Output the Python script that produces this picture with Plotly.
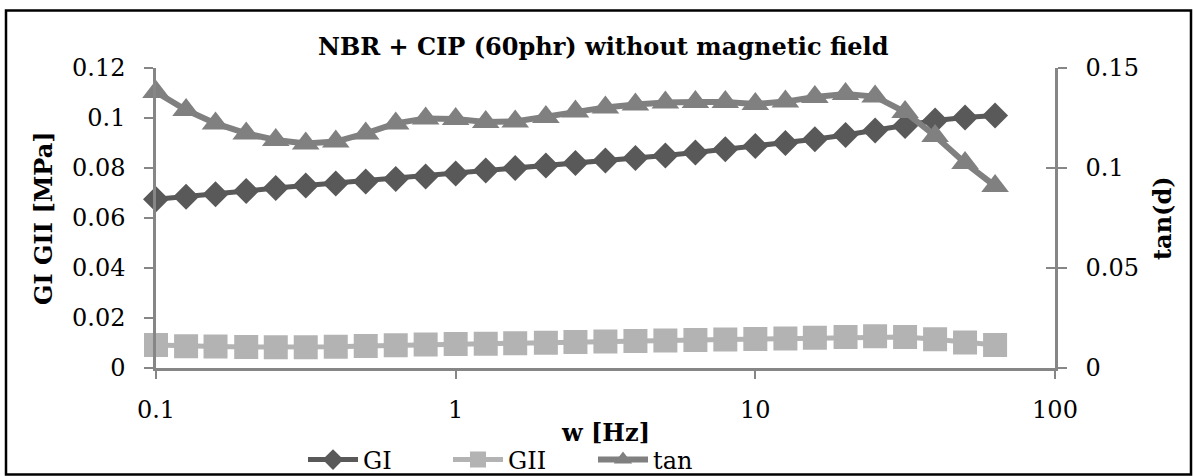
import plotly.graph_objects as go

# Frequency sweep (Hz), ten points per decade
freq = [0.1, 0.126, 0.158, 0.2, 0.251, 0.316, 0.398, 0.501, 0.631, 0.794,
        1.0, 1.26, 1.58, 2.0, 2.51, 3.16, 3.98, 5.01, 6.31, 7.94,
        10.0, 12.6, 15.8, 20.0, 25.1, 31.6, 39.8, 50.1, 63.1]

# Storage modulus GI [MPa]
gi = [0.0675, 0.0685, 0.0695, 0.0708, 0.0720, 0.0730, 0.0738, 0.0746, 0.0756, 0.0766,
      0.0778, 0.0790, 0.0800, 0.0810, 0.0820, 0.0830, 0.0840, 0.0850, 0.0862, 0.0875,
      0.0888, 0.0900, 0.0915, 0.0932, 0.0950, 0.0968, 0.0990, 0.1002, 0.1010]

# Loss modulus GII [MPa]
gii = [0.0092, 0.0087, 0.0086, 0.0084, 0.0083, 0.0083, 0.0085, 0.0088, 0.0091, 0.0094,
       0.0096, 0.0097, 0.0099, 0.0101, 0.0104, 0.0106, 0.0108, 0.0110, 0.0112, 0.0114,
       0.0116, 0.0118, 0.0121, 0.0124, 0.0127, 0.0124, 0.0115, 0.0102, 0.0092]

# Loss factor tan(d)
tan_d = [0.138, 0.129, 0.1223, 0.1173, 0.1140, 0.1123, 0.1132, 0.1173, 0.1223, 0.1248,
         0.1245, 0.1230, 0.1233, 0.1255, 0.1282, 0.1303, 0.1317, 0.1328, 0.1330, 0.1330,
         0.1320, 0.1332, 0.1355, 0.1370, 0.1357, 0.1280, 0.1160, 0.1025, 0.0910]

x_ticks = [0.1, 1, 10, 100]
x_ticktext = ["0.1", "1", "10", "100"]
left_ticks = [0, 0.02, 0.04, 0.06, 0.08, 0.1, 0.12]
left_ticktext = ["0", "0.02", "0.04", "0.06", "0.08", "0.1", "0.12"]
right_ticks = [0, 0.05, 0.1, 0.15]
right_ticktext = ["0", "0.05", "0.1", "0.15"]

FONT = "DejaVu Serif"
FS = 24
W, H = 1193, 476
L, R, T, B = 156, 138, 68, 108
PW, PH = W - L - R, H - T - B


def px(xp):
    return (xp - L) / PW


def py(yp):
    return (H - B - yp) / PH


fig = go.Figure()
fig.add_trace(go.Scatter(
    x=freq, y=gi, name="GI", mode="lines+markers", cliponaxis=False,
    line=dict(color="#595959", width=5),
    marker=dict(symbol="diamond", size=20, color="#595959"),
))
fig.add_trace(go.Scatter(
    x=freq, y=gii, name="GII", mode="lines+markers", cliponaxis=False,
    line=dict(color="#B3B3B3", width=5),
    marker=dict(symbol="square", size=24, color="#B3B3B3"),
))
fig.add_trace(go.Scatter(
    x=freq, y=tan_d, name="tan", mode="lines+markers", cliponaxis=False, yaxis="y2",
    line=dict(color="#808080", width=6),
    marker=dict(symbol="triangle-up", size=24, color="#808080"),
))
# carrier for the inner half of the crossing ticks on the right axis
fig.add_trace(go.Scatter(
    x=freq, y=tan_d, yaxis="y3", mode="none", showlegend=False, hoverinfo="skip",
))

axis_color = "#868686"
tick_font = dict(family=FONT, size=FS, color="black")

fig.update_layout(
    width=W, height=H,
    margin=dict(l=L, r=R, t=T, b=B, autoexpand=False),
    paper_bgcolor="white", plot_bgcolor="white",
    font=dict(family=FONT, size=FS, color="black"),
    showlegend=True,
    legend=dict(
        orientation="h", x=px(303), xanchor="left", y=py(460), yanchor="middle",
        font=dict(family=FONT, size=FS, color="black"),
        entrywidth=80, entrywidthmode="pixels", itemwidth=50,
        bgcolor="rgba(0,0,0,0)", tracegroupgap=0,
    ),
    xaxis=dict(
        type="log", range=[-1, 2], tickvals=x_ticks, ticktext=x_ticktext,
        showgrid=False, zeroline=False, showline=True, linecolor=axis_color, linewidth=2.5,
        ticks="outside", ticklen=8, tickwidth=2, tickcolor=axis_color,
        tickfont=tick_font, ticklabelstandoff=10,
    ),
    yaxis=dict(
        range=[0, 0.12], tickvals=left_ticks, ticktext=left_ticktext,
        showgrid=False, zeroline=False, showline=True, linecolor=axis_color, linewidth=2.5,
        ticks="outside", ticklen=9, tickwidth=2, tickcolor=axis_color,
        tickfont=tick_font, ticklabelstandoff=14,
    ),
    yaxis2=dict(
        range=[0, 0.15], tickvals=right_ticks, ticktext=right_ticktext,
        overlaying="y", side="right",
        showgrid=False, zeroline=False, showline=True, linecolor=axis_color, linewidth=2.5,
        ticks="outside", ticklen=9, tickwidth=2, tickcolor=axis_color,
        tickfont=tick_font, ticklabelstandoff=14,
    ),
    yaxis3=dict(
        range=[0, 0.15], tickvals=right_ticks, overlaying="y", side="right",
        showticklabels=False, showgrid=False, zeroline=False, showline=False,
        ticks="inside", ticklen=9, tickwidth=2, tickcolor=axis_color,
    ),
    annotations=[
        dict(text="<b>NBR + CIP (60phr) without magnetic field</b>", xref="paper", yref="paper",
             x=px(603), y=py(47), xanchor="center", yanchor="middle", showarrow=False,
             font=dict(family=FONT, size=FS)),
        dict(text="<b>GI GII [MPa]</b>", xref="paper", yref="paper", textangle=-90,
             x=px(43), y=py(218), xanchor="center", yanchor="middle", showarrow=False,
             font=dict(family=FONT, size=FS)),
        dict(text="<b>tan(d)</b>", xref="paper", yref="paper", textangle=-90,
             x=px(1162), y=py(218), xanchor="center", yanchor="middle", showarrow=False,
             font=dict(family=FONT, size=FS)),
        dict(text="<b>w [Hz]</b>", xref="paper", yref="paper",
             x=px(605), y=py(432), xanchor="center", yanchor="middle", showarrow=False,
             font=dict(family=FONT, size=FS)),
    ],
    shapes=[
        dict(type="rect", xref="paper", yref="paper",
             x0=px(6), x1=px(1191), y0=py(474.5), y1=py(10.5),
             line=dict(color="black", width=2.5), fillcolor="rgba(0,0,0,0)", layer="below"),
    ],
)

fig.write_html("out.html")
